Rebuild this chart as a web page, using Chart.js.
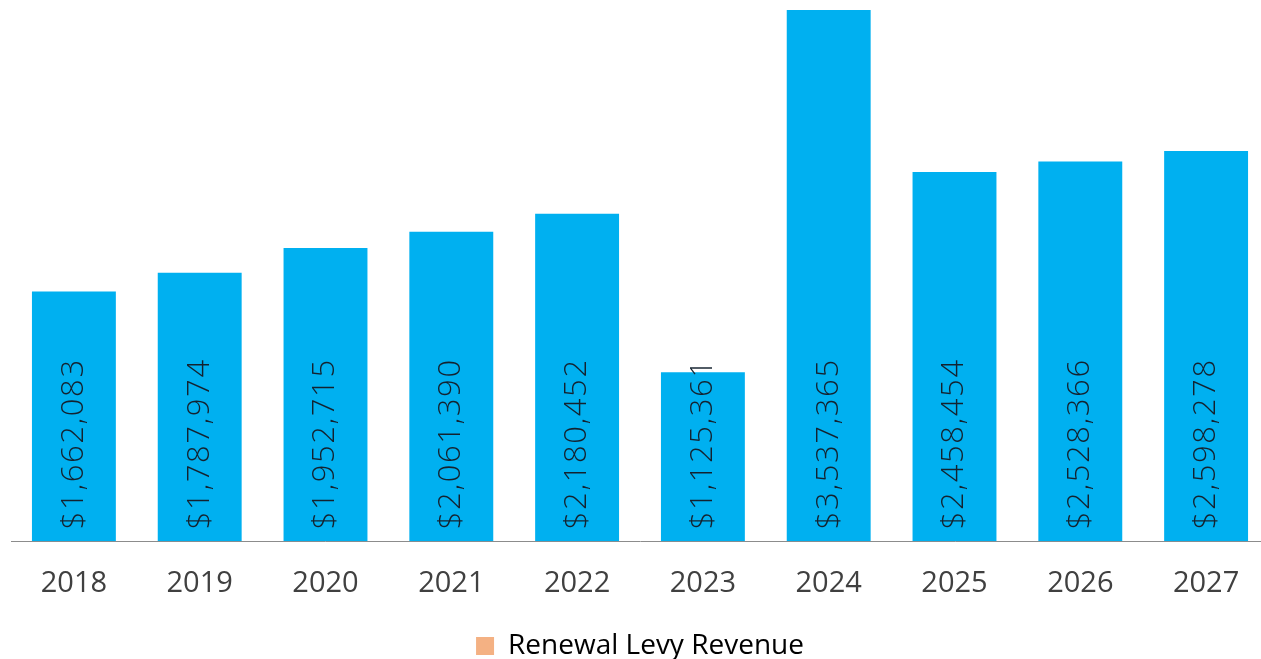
<!DOCTYPE html>
<html>
<head>
<meta charset="utf-8">
<script src="https://cdn.jsdelivr.net/npm/chart.js@4/dist/chart.umd.min.js"></script>
<style>
  html, body { margin: 0; padding: 0; background: #ffffff; overflow: hidden; }
  #wrap { position: relative; width: 1280px; height: 670px; }
</style>
</head>
<body>
<div id="wrap"><canvas id="chart"></canvas></div>
<script>
// Renewal levy revenue by year
const years = ['2018', '2019', '2020', '2021', '2022', '2023', '2024', '2025', '2026', '2027'];
const revenue = [1662083, 1787974, 1952715, 2061390, 2180452, 1125361, 3537365, 2458454, 2528366, 2598278];
const seriesName = 'Renewal Levy Revenue';

const fmtMoney = v => '$' + v.toLocaleString('en-US');

// Vertical value labels written upward from the base of each bar
const barValueLabels = {
  id: 'barValueLabels',
  afterDatasetsDraw(chart) {
    const ctx = chart.ctx;
    const meta = chart.getDatasetMeta(0);
    ctx.save();
    ctx.font = '300 31px "Open Sans", sans-serif';
    ctx.letterSpacing = '1.6px';
    ctx.fillStyle = '#14222f';
    ctx.textAlign = 'left';
    ctx.textBaseline = 'middle';
    meta.data.forEach((bar, i) => {
      ctx.save();
      ctx.translate(bar.x, bar.base - 12);
      ctx.rotate(-Math.PI / 2);
      ctx.fillText(fmtMoney(revenue[i]), 0, 0);
      ctx.restore();
    });
    ctx.restore();
  }
};

new Chart(document.getElementById('chart'), {
  type: 'bar',
  data: {
    labels: years,
    datasets: [{
      label: seriesName,
      data: revenue,
      backgroundColor: '#00b0f0',
      borderWidth: 0,
      categoryPercentage: 1,
      barPercentage: 0.667
    }]
  },
  options: {
    responsive: true,
    maintainAspectRatio: false,
    animation: false,
    layout: { padding: { left: 11, right: 11, top: 0, bottom: 0 } },
    scales: {
      x: {
        grid: { display: false, drawTicks: false },
        border: { display: true, color: '#8c8c8c', width: 1 },
        ticks: {
          color: '#404040',
          font: { family: '"Open Sans", sans-serif', size: 29 },
          padding: 25
        }
      },
      y: {
        display: false,
        min: 0,
        max: 3604000
      }
    },
    plugins: {
      legend: {
        position: 'bottom',
        labels: {
          color: '#404040',
          font: { family: '"Open Sans", sans-serif', size: 28 },
          boxWidth: 18,
          boxHeight: 18,
          padding: 6,
          generateLabels: () => [{
            text: seriesName,
            fillStyle: '#f4b183',
            strokeStyle: '#f4b183',
            lineWidth: 0,
            hidden: false,
            datasetIndex: 0
          }]
        }
      },
      tooltip: { enabled: false }
    }
  },
  plugins: [barValueLabels]
});
</script>
</body>
</html>
